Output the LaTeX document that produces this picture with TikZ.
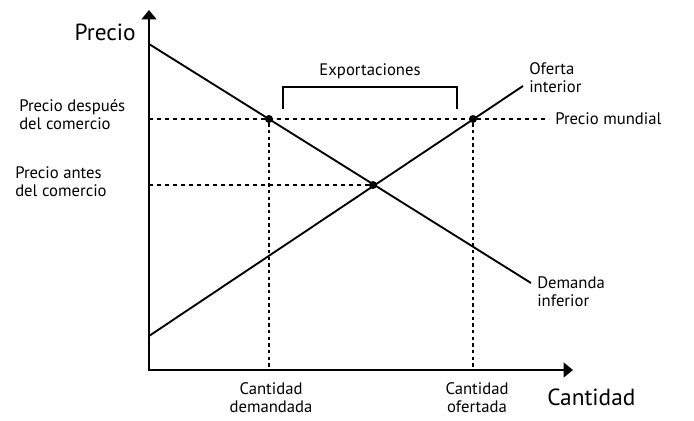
\documentclass[tikz,border=0pt]{standalone}
\usepackage{fontspec}
\setmainfont{PT Sans}
\usetikzlibrary{arrows.meta}
\begin{document}
\begin{tikzpicture}[x=0.75pt,y=-0.75pt,
  axis/.style={line width=1.7pt,-{Triangle[length=7pt,width=11pt]}},
  curve/.style={line width=1.4pt},
  hdash/.style={line width=1.1pt,dash pattern=on 3pt off 3pt},
  vdash/.style={line width=1.2pt,dash pattern=on 2.5pt off 2.5pt},
  dot/.style={circle,fill=black,inner sep=0pt,minimum size=6pt},
  lbl/.style={font=\fontsize{12.5}{13.6}\selectfont,inner sep=0pt,align=left},
  big/.style={font=\fontsize{17.5}{19}\selectfont,inner sep=0pt}]
\useasboundingbox (0,0) rectangle (694,421);
\coordinate (O) at (149,370);
\coordinate (ytop) at (149,10);
\coordinate (xend) at (573,370);
\coordinate (d1) at (149,44);
\coordinate (d2) at (531,283);
\coordinate (s1) at (149,336);
\coordinate (s2) at (523,86);
\node[dot] (E) at (373,185) {};
\node[dot] (A) at (269,119) {};
\node[dot] (B) at (473,119) {};
\coordinate (pm) at (549,119);
\coordinate (ya) at (149,119);
\coordinate (yb) at (149,185);
\coordinate (xa) at (269,370);
\coordinate (xb) at (473,370);
% dashed guides
\draw[hdash] (ya) -- (pm);
\draw[hdash] (yb) -- (E);
\draw[vdash] (A) -- (xa);
\draw[vdash] (B) -- (xb);
% curves
\draw[curve] (d1) -- (d2);
\draw[curve] (s1) -- (s2);
% axes
\draw[axis] (ytop |- O) ++(0,1) -- (ytop);
\draw[axis] ([xshift=-0.75pt]O) -- (xend);
% bracket
\coordinate (b1) at (283,109);
\coordinate (b2) at (457,109);
\draw[line width=1.2pt] (b1) -- (283,87) -- (457,87) -- (b2);
% labels
\node[big,anchor=east] (lp) at (136,32) {Precio};
\node[big,anchor=west] (lc) at (547,397) {Cantidad};
\node[lbl,anchor=center] (lx) at (370,71) {Exportaciones};
\node[lbl,anchor=west] (lpd) at (19,115) {Precio después\\del comercio};
\node[lbl,anchor=west] (lpa) at (15,182) {Precio antes\\del comercio};
\node[lbl,anchor=west] (lo) at (529,78) {Oferta\\interior};
\node[lbl,anchor=west] (lm) at (555,119) {Precio mundial};
\node[lbl,anchor=west] (ld) at (537,292) {Demanda\\inferior};
\node[lbl,align=center] (lcd) at (271,398) {Cantidad\\demandada};
\node[lbl,align=center] (lco) at (477,398) {Cantidad\\ofertada};
\end{tikzpicture}
\end{document}
